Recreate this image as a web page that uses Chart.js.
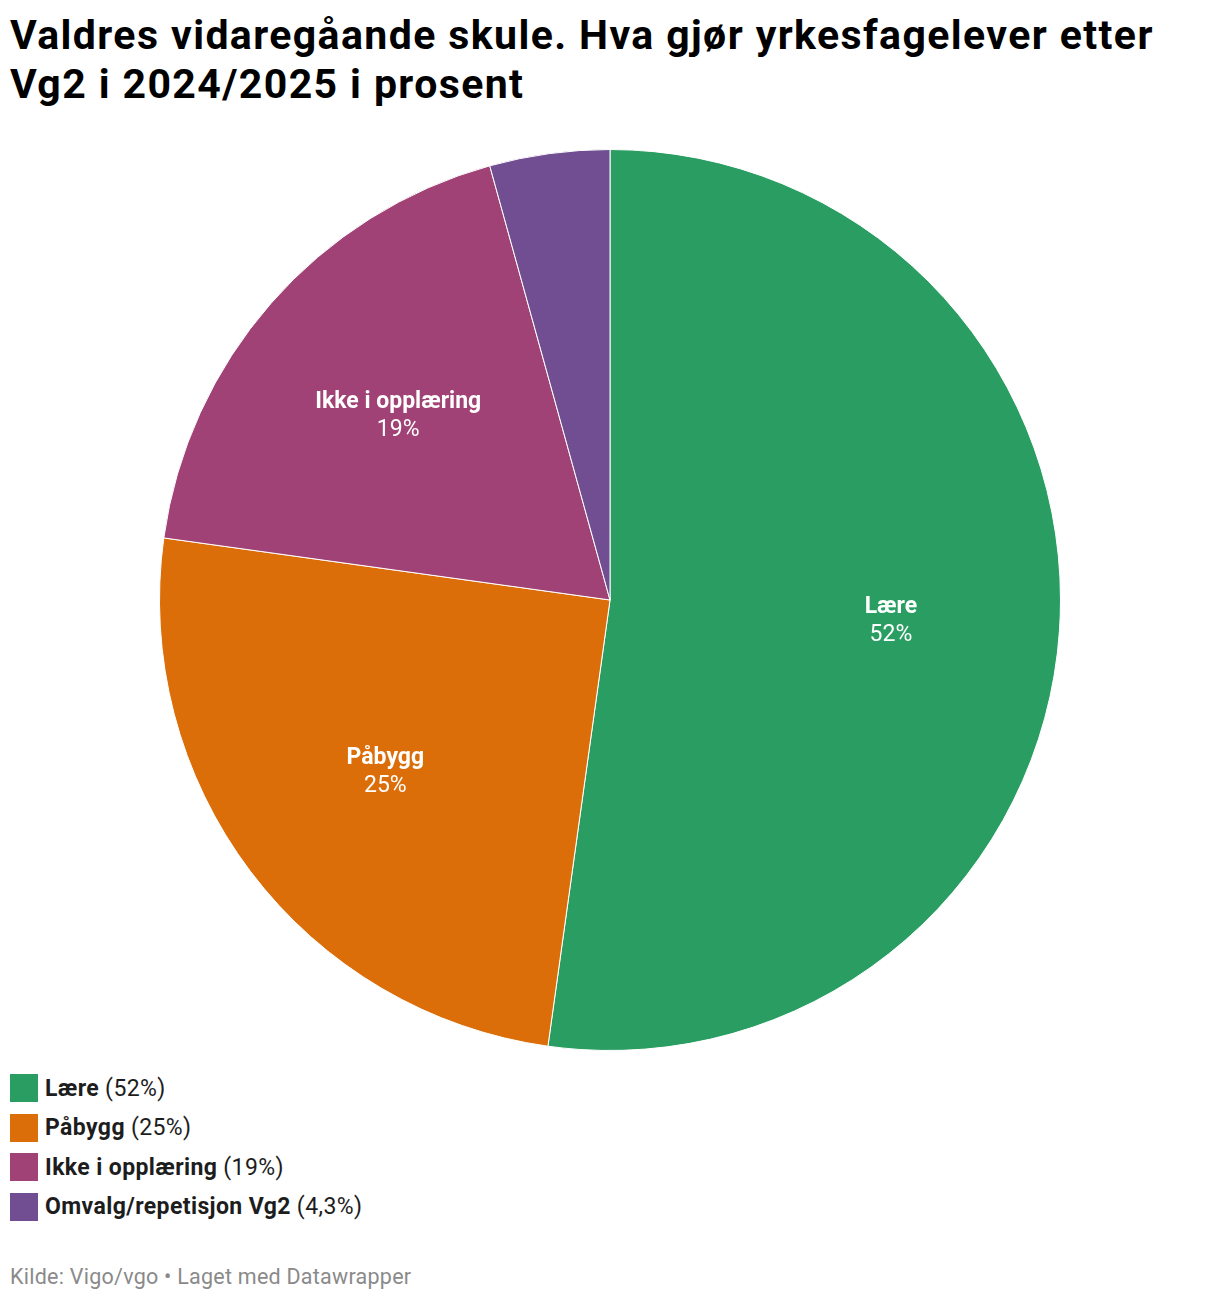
<!DOCTYPE html>
<html>
<head>
<meta charset="utf-8">
<script src="https://cdn.jsdelivr.net/npm/chart.js@4"></script>
<style>
  body { margin: 0; background: #fff; font-family: Roboto, "Noto Sans", sans-serif; width: 1220px; height: 1300px; position: relative; }
  h1 { position: absolute; left: 10px; top: 11px; margin: 0; font-size: 41px; line-height: 49px; font-weight: 700; color: #000; width: 1200px; letter-spacing: 1.4px; }
  #wrap { position: absolute; left: 0; top: 140px; width: 1220px; height: 920px; }
  #legend { position: absolute; left: 10px; top: 1074px; }
  .item { display: flex; align-items: center; height: 28px; margin-bottom: 11.5px; font-size: 23px; color: #1d1d1d; letter-spacing: 0.4px; }
  .item span.box { width: 28px; height: 28px; margin-right: 7px; }
  .item b { font-weight: 700; margin-right: 6px; }
  #kilde { position: absolute; left: 10px; top: 1264px; font-size: 21.5px; color: #8a8a8a; letter-spacing: 0.25px; }
</style>
</head>
<body>
<h1>Valdres vidaregåande skule. Hva gjør yrkesfagelever etter<br>Vg2 i 2024/2025 i prosent</h1>
<div id="wrap"><canvas id="grafico"></canvas></div>
<div id="legend"></div>
<div id="kilde">Kilde: Vigo/vgo • Laget med Datawrapper</div>
<script>
// Data lida av bildet
const kategorier = ["Lære", "Påbygg", "Ikke i opplæring", "Omvalg/repetisjon Vg2"];
const verdier = [52.2, 25.0, 18.5, 4.3];
const etiketter = ["52%", "25%", "19%", "4,3%"];
const farger = ["#2a9e62", "#dc6e0a", "#a04275", "#714e91"];
const visEtikett = [true, true, true, false];

// Legend
const legend = document.getElementById("legend");
kategorier.forEach((k, i) => {
    const div = document.createElement("div");
    div.className = "item";
    div.innerHTML = `<span class="box" style="background:${farger[i]}"></span><b>${k}</b>(${etiketter[i]})`;
    legend.appendChild(div);
});

// Etiketter inne i sektorene
const sektorTekst = {
    id: "sektorTekst",
    afterDatasetsDraw(chart) {
        const ctx = chart.ctx;
        const meta = chart.getDatasetMeta(0);
        meta.data.forEach((arc, i) => {
            if (!visEtikett[i]) return;
            const mid = (arc.startAngle + arc.endAngle) / 2;
            const r = arc.outerRadius * 0.625;
            const x = arc.x + Math.cos(mid) * r;
            const y = arc.y + Math.sin(mid) * r + 2;
            ctx.save();
            ctx.fillStyle = "#fff";
            ctx.textAlign = "center";
            ctx.textBaseline = "middle";
            ctx.font = "bold 23px Roboto";
            ctx.fillText(kategorier[i], x, y - 14);
            ctx.font = "23px Roboto";
            ctx.fillText(etiketter[i], x, y + 14);
            ctx.restore();
        });
    }
};

new Chart(document.getElementById("grafico"), {
    type: "pie",
    data: {
        labels: kategorier,
        datasets: [{
            data: verdier,
            backgroundColor: farger,
            borderColor: "#fff",
            borderWidth: 1
        }]
    },
    options: {
        responsive: true,
        maintainAspectRatio: false,
        animation: false,
        layout: { padding: { top: 9, bottom: 9 } },
        plugins: { legend: { display: false }, tooltip: { enabled: false } }
    },
    plugins: [sektorTekst]
});
</script>
</body>
</html>
